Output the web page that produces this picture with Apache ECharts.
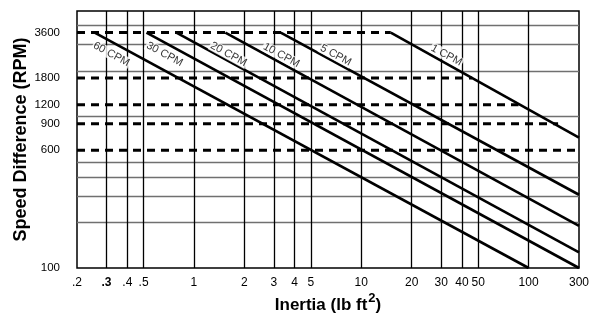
<!DOCTYPE html>
<html>
<head>
<meta charset="utf-8">
<script src="https://cdn.jsdelivr.net/npm/echarts@6/dist/echarts.min.js"></script>
<style>
html, body { margin: 0; padding: 0; background: #fff; }
#main { width: 597px; height: 316px; }
</style>
</head>
<body>
<div id="main"></div>
<script>
// axis ticks (log-log chart)
var xTickValues = [0.2, 0.3, 0.4, 0.5, 1, 2, 3, 4, 5, 10, 20, 30, 40, 50, 100, 200];
var xTickLabels = ['.2', '.3', '.4', '.5', '1', '2', '3', '4', '5', '10', '20', '30', '40', '50', '100', '300'];
var xGridValues = [0.3, 0.4, 0.5, 1, 2, 3, 4, 5, 10, 20, 30, 40, 50, 100];
var yLabelValues = [100, 600, 900, 1200, 1800, 3600];
var yGridValues = [200, 300, 400, 500, 1000, 2000, 3000, 4000];

// duty lines: inertia at 3600 RPM -> end point
var cpmNames = ['60 CPM', '30 CPM', '20 CPM', '10 CPM', '5 CPM', '1 CPM'];
var cpmStart = [0.255, 0.52, 0.785, 1.54, 3.3, 15];
var cpmEndX = [100, 200, 200, 200, 200, 200];
var cpmEndY = [100, 100, 127, 190, 305, 727];

// dashed reference speeds, drawn up to the 1 CPM line
var refSpeeds = [3600, 1800, 1200, 900, 600];
var refEnd = [15, 46, 87, 150, 200];

// where the CPM labels sit
var labelX = [0.321, 0.668, 1.61, 3.33, 7.04, 32.3];
var labelY = [2590, 2590, 2590, 2550, 2550, 2550];

var lg = Math.log10;
function pt(x, y) { return [lg(x), lg(y)]; }

function xLabel(v) {
  for (var i = 0; i < xTickValues.length; i++) {
    if (Math.abs(lg(xTickValues[i]) - v) < 1e-6) {
      return xTickLabels[i] === '.3' ? '{b|.3}' : xTickLabels[i];
    }
  }
  return '';
}

var series = [];
refSpeeds.forEach(function (s, i) {
  series.push({
    type: 'line',
    data: [pt(0.2, s), pt(refEnd[i], s)],
    symbol: 'none',
    silent: true,
    lineStyle: { color: '#000', width: 3, type: [8, 6] },
    z: 3
  });
});
cpmNames.forEach(function (name, i) {
  series.push({
    type: 'line',
    name: name,
    data: [pt(cpmStart[i], 3600), pt(cpmEndX[i], cpmEndY[i])],
    symbol: 'none',
    lineStyle: { color: '#000', width: 2.6 },
    z: 4
  });
});
series.push({
  type: 'scatter',
  symbolSize: 0,
  data: labelX.map(function (x, i) { return pt(x, labelY[i]); }),
  label: {
    show: true,
    position: 'inside',
    formatter: function (p) { return cpmNames[p.dataIndex]; },
    rotate: -28.5,
    color: '#000',
    fontSize: 11,
    fontFamily: 'Liberation Sans',
    backgroundColor: '#fff',
    padding: [0, 1]
  },
  z: 5
});

var chart = echarts.init(document.getElementById('main'));
chart.setOption({
  animation: false,
  textStyle: { fontFamily: 'Liberation Sans' },
  grid: {
    left: 77, right: 18, top: 11, bottom: 48,
    outerBoundsMode: 'none',
    containLabel: false,
    show: true, borderColor: '#000', borderWidth: 1.5, backgroundColor: '#fff'
  },
  xAxis: {
    type: 'value',
    min: lg(0.2),
    max: lg(200),
    name: 'Inertia (lb ft{sup|2})',
    nameLocation: 'middle',
    nameGap: 24,
    nameMoveOverlap: false,
    nameTextStyle: {
      fontSize: 17, fontWeight: 'bold', color: '#000', lineHeight: 26,
      rich: { sup: { fontSize: 13, fontWeight: 'bold', color: '#000', lineHeight: 13, verticalAlign: 'top', padding: [0, 0, 0, 1] } }
    },
    axisLine: { show: false },
    axisTick: { show: false, customValues: xGridValues.map(lg) },
    splitLine: { show: true, lineStyle: { color: '#000', width: 1.3 } },
    axisLabel: {
      customValues: xTickValues.map(lg),
      formatter: xLabel,
      fontSize: 12,
      color: '#000',
      margin: 9,
      rich: { b: { fontWeight: 'bold', fontSize: 12 } }
    }
  },
  yAxis: {
    type: 'value',
    min: 2,
    max: lg(5000),
    name: 'Speed Difference (RPM)',
    nameLocation: 'middle',
    nameGap: 47,
    nameMoveOverlap: false,
    nameTextStyle: { fontSize: 18, fontWeight: 'bold', color: '#000' },
    axisLine: { show: false },
    axisTick: { show: false, customValues: yGridValues.map(lg) },
    splitLine: { show: true, lineStyle: { color: '#707070', width: 1.3 } },
    axisLabel: {
      customValues: yLabelValues.map(lg),
      formatter: function (v) { return String(Math.round(Math.pow(10, v))); },
      fontSize: 11.5,
      color: '#000',
      margin: 17
    }
  },
  series: series
});
</script>
</body>
</html>
